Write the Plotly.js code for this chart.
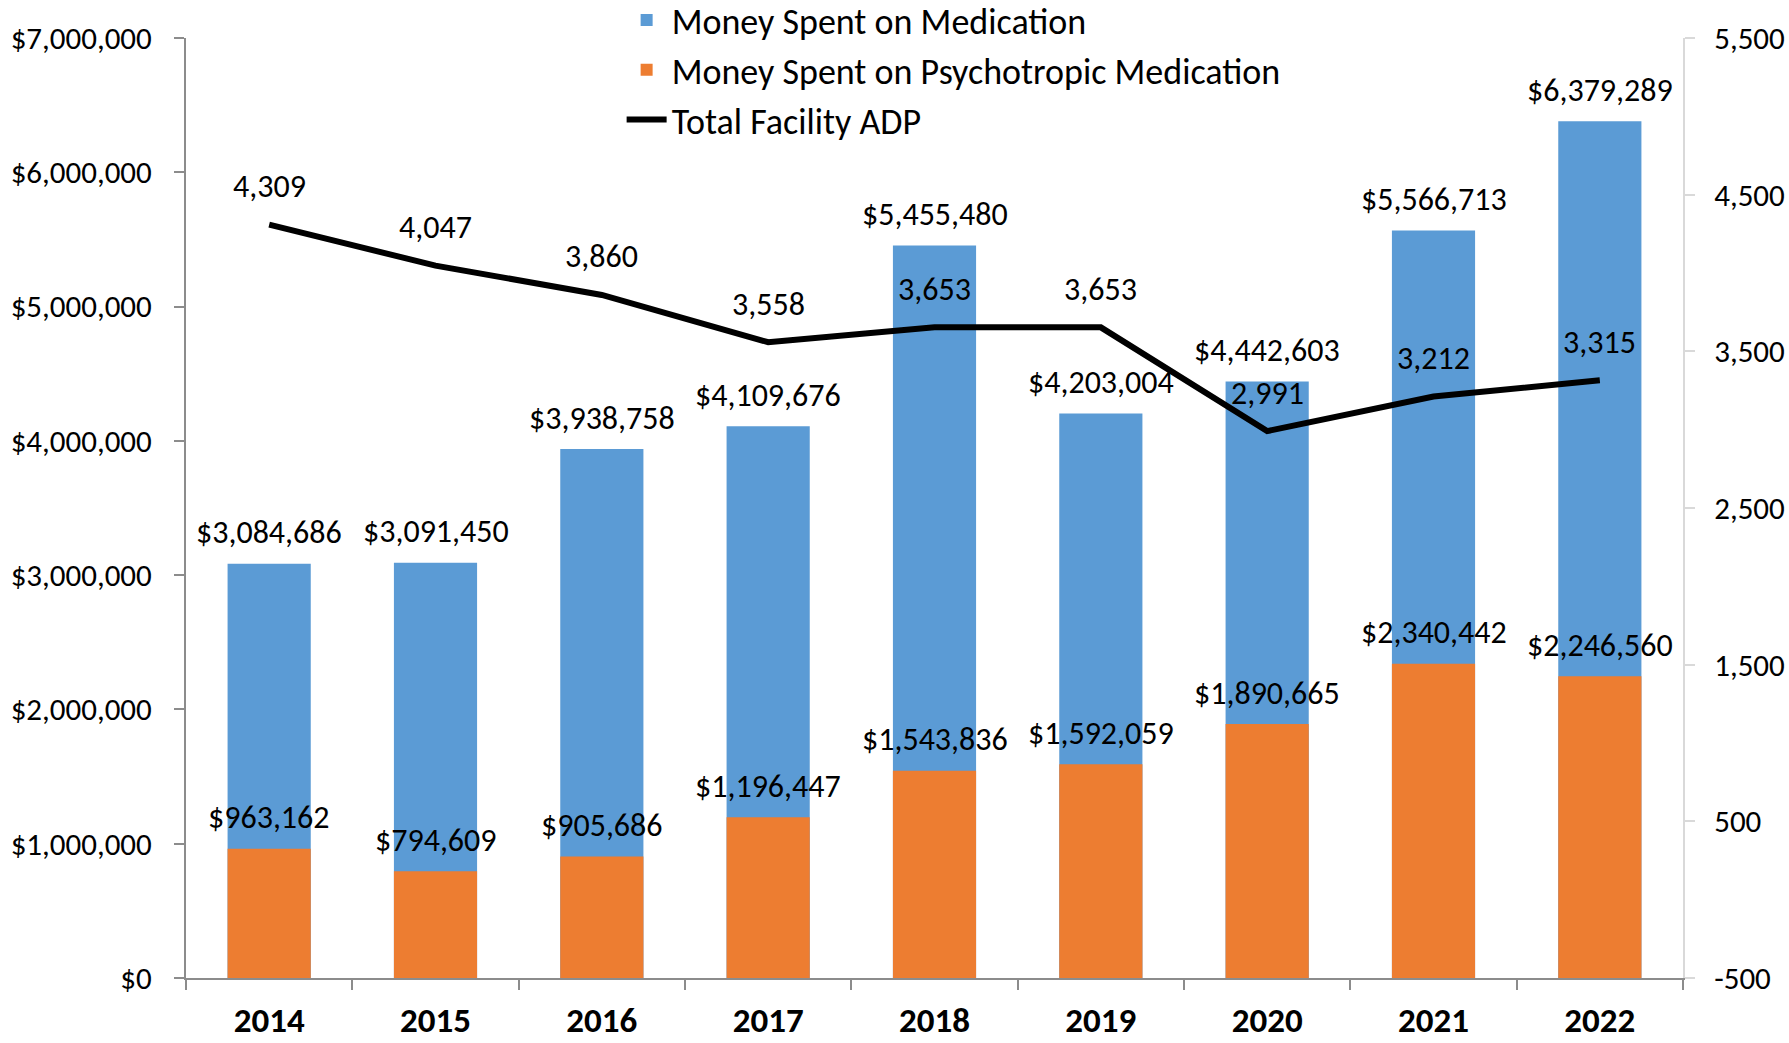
<!DOCTYPE html>
<html>
<head>
<meta charset="utf-8">
<script src="https://cdn.plot.ly/plotly-3.0.1.min.js"></script>
<style>html,body{margin:0;padding:0;background:#fff;}#chart{width:1789px;height:1043px;}</style>
</head>
<body>
<div id="chart"></div>
<script>
const years = ["2014","2015","2016","2017","2018","2019","2020","2021","2022"];
const medication = [3084686, 3091450, 3938758, 4109676, 5455480, 4203004, 4442603, 5566713, 6379289];
const psychotropic = [963162, 794609, 905686, 1196447, 1543836, 1592059, 1890665, 2340442, 2246560];
const adp = [4309, 4047, 3860, 3558, 3653, 3653, 2991, 3212, 3315];
const leftTicks = [0, 1000000, 2000000, 3000000, 4000000, 5000000, 6000000, 7000000];
const rightTicks = [-500, 500, 1500, 2500, 3500, 4500, 5500];

const FONT = "Carlito, Calibri, Lato, sans-serif";
const fmt = v => v.toLocaleString("en-US");
const money = v => "$" + fmt(v);

const traces = [
  {type:"bar", name:"Money Spent on Medication", x:years, y:medication,
   marker:{color:"#5B9BD5"}, width:0.5, legendgroup:"a", hoverinfo:"y"},
  {type:"bar", name:"Money Spent on Psychotropic Medication", x:years, y:psychotropic,
   marker:{color:"#ED7D31"}, width:0.5, legendgroup:"b", hoverinfo:"y"},
  {type:"scatter", mode:"lines", name:"Total Facility ADP", x:years, y:adp, yaxis:"y2",
   line:{color:"#000000", width:6}, legendgroup:"c", hoverinfo:"y"}
];

const annotations = [];
years.forEach((yr,i)=>{
  annotations.push({x:i, y:medication[i], xref:"x", yref:"y", text:money(medication[i]),
    showarrow:false, yshift:31, font:{size:32, color:"#000", family:FONT}});
  annotations.push({x:i, y:psychotropic[i], xref:"x", yref:"y", text:money(psychotropic[i]),
    showarrow:false, yshift:31, font:{size:32, color:"#000", family:FONT}});
  annotations.push({x:i, y:adp[i], xref:"x", yref:"y2", text:fmt(adp[i]),
    showarrow:false, yshift:38, font:{size:32, color:"#000", family:FONT}});
});

const layout = {
  width:1789, height:1043,
  margin:{l:186, r:106, t:38, b:65, autoexpand:false},
  paper_bgcolor:"#fff", plot_bgcolor:"#fff",
  font:{family:FONT, color:"#000", size:32},
  barmode:"overlay",
  showlegend:true,
  legend:{x:0.291, xanchor:"left", y:1.051, yanchor:"top", bgcolor:"rgba(0,0,0,0)",
    font:{size:36, color:"#000", family:FONT}, tracegroupgap:0, itemwidth:40, traceorder:"normal"},
  xaxis:{type:"category", categoryarray:years, categoryorder:"array", range:[-0.5, 8.5], autorange:false,
    showgrid:false, showline:true, linecolor:"#8c8c8c", linewidth:2,
    ticks:"outside", tickson:"boundaries", ticklen:10, tickcolor:"#8c8c8c", tickwidth:2,
    tickangle:0,
    tickfont:{size:35, family:FONT, weight:"bold", color:"#000"}, ticklabelstandoff:10,
    zeroline:false},
  yaxis:{range:[0,7000000], autorange:false, tickvals:leftTicks, ticktext:leftTicks.map(money),
    showgrid:false, showline:true, linecolor:"#8c8c8c", linewidth:2,
    ticks:"outside", ticklen:10, tickcolor:"#8c8c8c", tickwidth:2, zeroline:false,
    tickfont:{size:31, family:FONT, color:"#000"}, ticklabelstandoff:16},
  yaxis2:{range:[-500,5500], autorange:false, tickvals:rightTicks, ticktext:rightTicks.map(fmt),
    overlaying:"y", side:"right", showgrid:false, showline:true, linecolor:"#d9d9d9", linewidth:2,
    ticks:"outside", ticklen:10, tickcolor:"#d9d9d9", tickwidth:2, zeroline:false,
    tickfont:{size:31, family:FONT, color:"#000"}, ticklabelstandoff:13},
  annotations:annotations
};

Plotly.newPlot("chart", traces, layout, {displayModeBar:false, responsive:false});
</script>
</body>
</html>
